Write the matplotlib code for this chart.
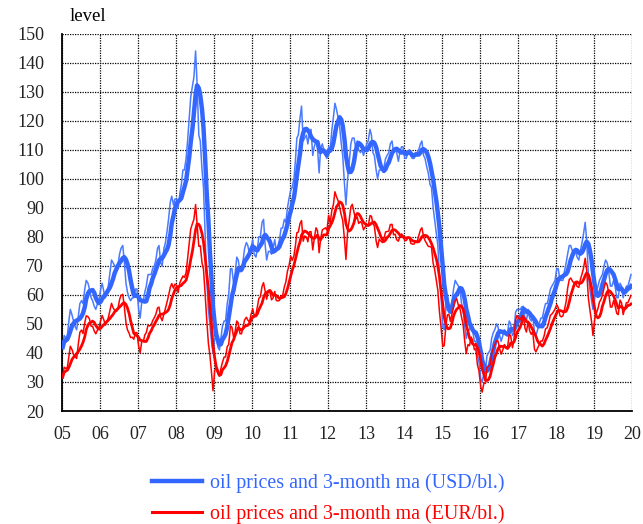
import numpy as np
import pandas as pd
import matplotlib
matplotlib.use("Agg")
from matplotlib import pyplot as plt
from matplotlib.lines import Line2D

# half-monthly oil prices, 2005-2019
usd = [
    42, 46, 45, 46, 51, 55, 53, 51, 49, 48, 53, 57, 58, 57, 62, 65, 64, 62, 59, 58, 56, 55, 57, 58,
    62, 64, 61, 59, 61, 63, 68, 72, 71, 70, 69, 70, 74, 76, 77, 72, 64, 61, 59, 58, 59, 59, 62, 62,
    55, 52, 58, 58, 61, 63, 67, 67, 67, 69, 70, 72, 76, 77, 71, 70, 76, 78, 82, 86, 92, 94, 91, 93,
    93, 90, 95, 98, 103, 103, 107, 113, 121, 128, 132, 135, 144, 133, 115, 113, 103, 97, 80, 66, 55, 50, 44, 40,
    45, 45, 42, 41, 45, 49, 51, 51, 57, 60, 69, 69, 64, 67, 73, 72, 68, 68, 72, 76, 78, 77, 74, 76,
    79, 74, 73, 76, 80, 80, 85, 86, 77, 72, 75, 75, 74, 76, 79, 75, 77, 79, 83, 83, 86, 85, 90, 93,
    96, 97, 100, 106, 114, 115, 121, 125, 113, 114, 115, 112, 116, 117, 108, 111, 113, 111, 102, 110, 112, 110, 108, 107,
    111, 110, 117, 121, 126, 124, 121, 118, 112, 108, 98, 91, 100, 105, 112, 114, 114, 111, 113, 110, 109, 110, 108, 110,
    112, 113, 117, 115, 109, 108, 103, 100, 103, 103, 103, 104, 107, 108, 109, 112, 113, 109, 110, 109, 106, 109, 111, 111,
    107, 107, 109, 110, 108, 107, 107, 109, 109, 110, 112, 113, 108, 107, 104, 102, 98, 97, 90, 86, 81, 77, 67, 60,
    49, 48, 56, 60, 57, 55, 58, 62, 65, 64, 63, 62, 57, 55, 49, 45, 48, 48, 50, 48, 44, 44, 39, 37,
    31, 30, 33, 33, 39, 40, 41, 45, 47, 48, 50, 49, 46, 44, 46, 48, 47, 47, 51, 50, 46, 47, 54, 55,
    55, 55, 56, 56, 52, 51, 55, 52, 51, 53, 47, 46, 48, 50, 52, 52, 55, 57, 57, 59, 62, 63, 64, 65,
    69, 69, 65, 65, 65, 68, 71, 74, 77, 77, 75, 75, 75, 73, 72, 75, 78, 81, 85, 79, 67, 62, 58, 55,
    59, 61, 63, 65, 66, 67, 70, 72, 71, 68, 63, 63, 65, 63, 59, 59, 64, 63, 59, 61, 63, 63, 65, 67,
]
eur = [
    31.6, 35.1, 34.6, 35.1, 38.6, 42.3, 41.1, 39.5, 38.6, 38.1, 43.4, 47.1, 47.9, 46.7, 50.4, 52.8, 52.5, 51.7, 49.2, 49.2, 47.5, 46.6, 47.9, 48.7,
    51.2, 52.9, 51.3, 49.6, 50.8, 52.1, 54.8, 57.1, 55.5, 54.7, 54.3, 55.1, 58.3, 59.8, 60.2, 56.3, 50.4, 48.0, 46.8, 45.3, 45.4, 44.7, 47.0, 47.0,
    42.3, 40.0, 44.3, 43.9, 46.2, 47.0, 49.6, 49.3, 49.6, 51.1, 52.2, 53.3, 55.5, 55.8, 52.2, 51.1, 53.5, 55.3, 57.7, 59.7, 62.6, 63.9, 62.3, 63.7,
    63.3, 60.8, 64.2, 65.3, 66.5, 66.0, 67.7, 72.4, 77.6, 82.6, 84.6, 86.0, 91.1, 84.7, 76.7, 76.9, 71.0, 68.8, 60.2, 52.0, 43.3, 39.4, 33.3, 27.0,
    34.1, 34.6, 32.8, 32.0, 34.6, 36.6, 38.6, 38.6, 42.2, 42.9, 49.3, 48.9, 45.4, 47.2, 51.0, 50.3, 46.6, 46.6, 49.0, 51.4, 52.3, 51.3, 50.7, 53.1,
    55.2, 52.9, 53.3, 55.9, 58.8, 59.3, 63.0, 64.2, 61.1, 58.5, 61.5, 61.0, 58.3, 58.9, 61.2, 58.1, 57.9, 58.1, 59.7, 59.7, 62.8, 64.4, 68.2, 69.9,
    73.3, 71.9, 73.5, 76.8, 81.4, 81.6, 84.6, 85.6, 78.5, 80.3, 79.9, 78.3, 81.7, 81.8, 75.5, 79.3, 83.1, 82.2, 74.5, 79.1, 82.4, 82.7, 83.1, 82.3,
    87.4, 84.6, 89.3, 91.0, 95.5, 93.9, 92.4, 90.1, 87.5, 85.7, 79.0, 72.2, 82.0, 85.4, 90.3, 91.2, 88.4, 86.0, 86.9, 84.6, 85.2, 84.6, 82.4, 83.3,
    84.2, 83.7, 87.3, 87.1, 84.5, 83.7, 78.6, 76.3, 79.2, 78.6, 78.0, 79.4, 81.7, 81.8, 82.0, 84.2, 84.3, 80.7, 80.9, 79.0, 78.5, 80.1, 81.0, 80.4,
    78.7, 78.7, 79.6, 79.7, 77.7, 77.5, 77.5, 78.4, 78.4, 80.3, 82.4, 83.1, 80.0, 78.7, 77.6, 76.7, 76.6, 76.4, 70.9, 68.8, 64.8, 61.6, 54.0, 49.2,
    42.2, 42.5, 49.6, 53.1, 53.3, 50.9, 53.7, 55.9, 58.0, 58.7, 56.3, 55.4, 52.3, 50.0, 43.8, 39.8, 42.9, 42.5, 45.5, 44.4, 41.1, 41.5, 35.8, 33.9,
    28.4, 26.5, 29.7, 29.5, 35.1, 35.4, 36.0, 39.8, 41.6, 42.9, 44.2, 44.1, 41.4, 39.6, 41.1, 42.9, 42.0, 42.0, 46.4, 45.9, 41.8, 44.3, 51.4, 52.9,
    51.9, 51.4, 52.8, 52.8, 48.6, 47.2, 50.9, 47.7, 46.4, 47.3, 41.2, 40.4, 41.7, 42.7, 44.1, 44.1, 45.8, 48.3, 48.7, 50.4, 53.0, 53.4, 54.2, 55.1,
    56.6, 55.6, 52.8, 52.4, 52.8, 54.8, 57.7, 62.2, 65.3, 65.8, 64.7, 64.1, 64.1, 62.9, 62.6, 65.2, 67.2, 69.2, 72.6, 68.7, 58.8, 54.9, 50.9, 46.0,
    51.8, 53.5, 55.3, 57.5, 58.4, 59.8, 62.5, 64.3, 63.4, 60.7, 55.8, 55.8, 58.0, 56.3, 53.6, 53.2, 58.2, 57.3, 53.2, 55.0, 57.3, 57.3, 58.6, 59.8,
]
year_labels = ["05", "06", "07", "08", "09", "10", "11", "12", "13", "14",
               "15", "16", "17", "18", "19", "20"]
y_ticks = list(range(20, 151, 10))

BLUE = "#3366ff"
BLUE_THIN = "#4a7aff"
RED = "#ff0000"

dates = pd.date_range("2005-01-01", periods=len(usd), freq="SMS") + pd.Timedelta(days=7)
usd_s = pd.Series(usd, index=dates)
eur_s = pd.Series(eur, index=dates)
# 3-month moving average (6 half-month observations)
usd_ma = usd_s.rolling(6, min_periods=1).mean()
eur_ma = eur_s.rolling(6, min_periods=1).mean()

plt.rcParams["font.family"] = ["Liberation Serif", "DejaVu Serif"]

fig = plt.figure(figsize=(6.43, 5.24), dpi=100)
ax = fig.add_axes([0.0964, 0.2156, 0.8865, 0.7204])

ax.plot(dates, usd_s.values, color=BLUE_THIN, lw=1.1, zorder=3)
ax.plot(dates, usd_ma.values, color=BLUE, lw=3.2, zorder=4)
ax.plot(dates, eur_s.values, color=RED, lw=1.1, zorder=5)
ax.plot(dates, eur_ma.values, color=RED, lw=2.0, zorder=6)

year_pos = pd.to_datetime([f"20{y}-01-01" for y in year_labels])
ax.set_xlim(year_pos[0], year_pos[-1])
ax.set_xticks(year_pos)
ax.set_xticklabels(year_labels)
ax.set_ylim(20, 150)
ax.set_yticks(y_ticks)

ax.grid(True, color="black", linestyle=(0, (1, 1)), linewidth=0.9)
ax.tick_params(axis="both", length=0, labelsize=13, colors="#222222")
ax.tick_params(axis="y", pad=13)
ax.tick_params(axis="x", pad=11)
for side in ("top", "right"):
    ax.spines[side].set_visible(False)
for side in ("left", "bottom"):
    ax.spines[side].set_linewidth(1.3)

fig.text(0.108, 0.959, "level", fontsize=13.5, ha="left", va="baseline")

handles = [Line2D([], [], color=BLUE, lw=3.2), Line2D([], [], color=RED, lw=2.2)]
labels = ["oil prices and 3-month ma (USD/bl.)", "oil prices and 3-month ma (EUR/bl.)"]
leg = fig.legend(handles, labels, loc="upper left", bbox_to_anchor=(0.236, 0.097),
                 frameon=False, fontsize=14.4, handlelength=2.5, handletextpad=0.4,
                 labelspacing=0.56, borderaxespad=0, borderpad=0)
for txt, c in zip(leg.get_texts(), [BLUE, RED]):
    txt.set_color(c)

fig.savefig("out.png", dpi=100)
